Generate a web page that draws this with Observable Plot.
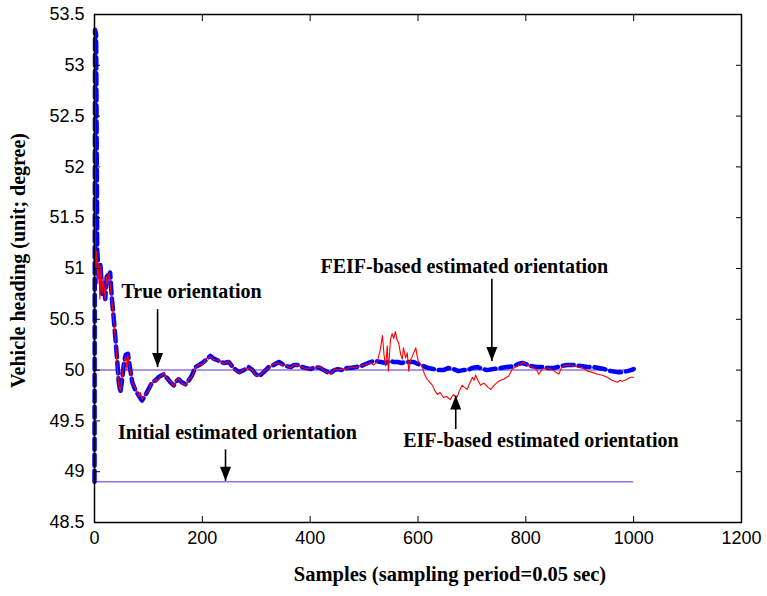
<!DOCTYPE html>
<html>
<head>
<meta charset="utf-8">
<script src="https://cdn.jsdelivr.net/npm/d3@7"></script>
<script src="https://cdn.jsdelivr.net/npm/@observablehq/plot@0.6"></script>
<style>
  body { margin: 0; background: #fff; }
</style>
</head>
<body>
<div id="chart"></div>
<script>
// Vehicle heading estimates: EIF vs. FEIF, sample index vs. degrees
const xTicks = [0, 200, 400, 600, 800, 1000, 1200];
const yTicks = [48.5, 49, 49.5, 50, 50.5, 51, 51.5, 52, 52.5, 53, 53.5];

const trueHeading = 50;
const initialHeading = 48.9;
const lastSample = 1000;

// FEIF-based estimate [sample, heading]
const feif = [
  [0, 48.9], [1, 53.35], [3, 53.3], [5, 51.19], [8, 50.9], [11, 51.05], [14, 50.75], [17, 50.85],
  [20, 50.7], [23, 50.95], [26, 50.92], [29, 50.96], [32, 50.72], [35, 50.55], [39, 50.3], [42, 50.1],
  [45, 49.88], [48, 49.78], [51, 49.9], [55, 50.08], [58, 50.15], [62, 50.16], [65, 50.05], [70, 49.88],
  [76, 49.8], [82, 49.75], [88, 49.7], [95, 49.76], [101, 49.82], [107, 49.88], [113, 49.9], [119, 49.93],
  [125, 49.95], [129, 49.96], [135, 49.92], [141, 49.88], [147, 49.85], [152, 49.89], [156, 49.91],
  [162, 49.88], [169, 49.86], [175, 49.9], [181, 49.95], [187, 50.03], [194, 50.05], [200, 50.07],
  [207, 50.1], [215, 50.14], [222, 50.11], [231, 50.09], [240, 50.07], [249, 50.08], [258, 50.02],
  [268, 49.98], [277, 50.0], [286, 50.03], [293, 50.0], [299, 49.96], [305, 49.94], [314, 49.98],
  [323, 50.03], [332, 50.05], [342, 50.08], [348, 50.06], [354, 50.04], [364, 50.03], [370, 50.05],
  [377, 50.05], [385, 50.03], [393, 50.02], [401, 50.01], [410, 50.03], [419, 50.02], [425, 50.0],
  [432, 49.98], [438, 49.97], [445, 50.0], [451, 50.01], [460, 50.0], [468, 50.02], [475, 50.02],
  [485, 50.03], [494, 50.04], [503, 50.06], [512, 50.08], [520, 50.09], [531, 50.08], [540, 50.07],
  [548, 50.09], [555, 50.08], [562, 50.08], [570, 50.07], [578, 50.08], [585, 50.08], [592, 50.08],
  [600, 50.06], [610, 50.04], [620, 50.02], [629, 50.01], [638, 50.0], [647, 50.0], [656, 50.02],
  [666, 50.01], [675, 49.99], [684, 50.0], [692, 50.0], [700, 50.02], [711, 50.03], [720, 50.01],
  [728, 50.0], [740, 50.01], [753, 50.02], [765, 50.03], [778, 50.04], [786, 50.06], [793, 50.07],
  [800, 50.06], [809, 50.04], [820, 50.03], [833, 50.03], [843, 50.02], [852, 50.02], [865, 50.04],
  [877, 50.05], [890, 50.05], [902, 50.04], [914, 50.03], [926, 50.03], [935, 50.02], [945, 50.01],
  [958, 49.99], [970, 49.98], [980, 49.98], [988, 49.99], [995, 50.0], [1000, 50.01]
];

// EIF-based estimate [sample, heading]
const eif = [
  [0, 50.25], [1, 53.35], [2, 51.0], [4, 51.17], [6, 50.85], [8, 51.05], [10, 50.7], [12, 51.02],
  [14, 50.75], [16, 50.9], [18, 50.8], [20, 50.68], [22, 50.92], [24, 50.85], [26, 50.95], [28, 50.9],
  [30, 50.78], [32, 50.7], [35, 50.52], [39, 50.28], [42, 50.05], [45, 49.85], [48, 49.8], [51, 49.92],
  [55, 50.1], [58, 50.13], [60, 50.0], [62, 50.15], [65, 50.03], [70, 49.87], [76, 49.82], [82, 49.74],
  [85, 49.78], [88, 49.71], [95, 49.77], [101, 49.8], [104, 49.86], [107, 49.87], [113, 49.91],
  [117, 49.89], [122, 49.94], [129, 49.97], [135, 49.91], [141, 49.89], [147, 49.84], [152, 49.9],
  [156, 49.92], [162, 49.87], [169, 49.85], [175, 49.91], [181, 49.94], [187, 50.02], [194, 50.06],
  [200, 50.05], [207, 50.11], [215, 50.13], [222, 50.1], [231, 50.1], [240, 50.06], [249, 50.09],
  [258, 50.01], [268, 49.97], [277, 50.01], [286, 50.02], [293, 50.0], [299, 49.95], [305, 49.94],
  [314, 49.99], [323, 50.02], [332, 50.06], [342, 50.07], [348, 50.05], [354, 50.05], [364, 50.02],
  [370, 50.06], [377, 50.04], [385, 50.03], [393, 50.01], [401, 50.02], [410, 50.02], [419, 50.03],
  [425, 49.99], [432, 49.98], [438, 49.96], [445, 50.01], [451, 50.0], [460, 50.01], [468, 50.01],
  [475, 50.03], [485, 50.02], [494, 50.05], [503, 50.05], [512, 50.07], [518, 50.05], [525, 50.09],
  [530, 50.2], [534, 50.34], [537, 50.15], [540, 50.04], [543, 50.24], [545, 49.99], [549, 50.3],
  [552, 50.36], [555, 50.31], [558, 50.38], [561, 50.3], [564, 50.27], [568, 50.15], [571, 50.11],
  [573, 50.22], [577, 50.12], [580, 50.17], [583, 49.99], [586, 50.1], [589, 50.13], [593, 50.18],
  [596, 50.22], [598, 50.15], [601, 50.08], [605, 50.06], [608, 50.03], [612, 49.96], [617, 49.91],
  [622, 49.88], [627, 49.85], [631, 49.8], [636, 49.76], [641, 49.78], [647, 49.73], [653, 49.74],
  [660, 49.71], [663, 49.74], [666, 49.76], [670, 49.73], [673, 49.74], [677, 49.8], [682, 49.85],
  [686, 49.83], [691, 49.81], [696, 49.87], [701, 49.93], [704, 49.9], [707, 49.95], [712, 49.89],
  [716, 49.85], [721, 49.87], [725, 49.86], [730, 49.83], [735, 49.81], [741, 49.85], [747, 49.88],
  [753, 49.9], [759, 49.91], [764, 49.93], [768, 49.94], [775, 50.01], [784, 50.04], [790, 50.06],
  [796, 50.08], [800, 50.06], [805, 50.04], [814, 50.03], [820, 50.0], [824, 49.96], [831, 50.01],
  [840, 50.02], [846, 50.01], [853, 49.99], [861, 49.96], [866, 50.02], [870, 50.04], [880, 50.05],
  [889, 50.04], [896, 50.03], [902, 50.03], [908, 50.01], [914, 49.99], [922, 49.98], [933, 49.96],
  [942, 49.95], [951, 49.93], [960, 49.9], [970, 49.88], [975, 49.9], [979, 49.89], [984, 49.9],
  [988, 49.91], [994, 49.93], [1000, 49.93]
];

// Annotation labels
const noteText = [
  "True orientation",
  "FEIF-based estimated orientation",
  "Initial estimated orientation",
  "EIF-based estimated orientation"
];
const noteSample = [180, 686, 265, 828];
const noteHeading = [50.77, 51.02, 49.38, 49.31];

// Annotation arrows: stem from tail to tip
const arrowSample = [117, 737, 670, 243];
const arrowTail = [50.6, 50.9, 49.42, 49.22];
const arrowTip = [50.03, 50.09, 49.75, 48.91];

const serif = "'Liberation Serif', 'Times New Roman', serif";
const sans = "'Liberation Sans', Arial, Helvetica, sans-serif";
const purple = "#9370db";

const notes = noteText.map((t, i) => ({text: t, x: noteSample[i], y: noteHeading[i]}));
const arrows = arrowSample.map((s, i) => ({x: s, y1: arrowTail[i], y2: arrowTip[i], up: arrowTip[i] > arrowTail[i]}));

// filled arrowhead with its tip at the origin, pointing down
const arrowHead = {
  draw(ctx) {
    ctx.moveTo(0, 0);
    ctx.lineTo(-5.5, -14);
    ctx.lineTo(5.5, -14);
    ctx.closePath();
  }
};

const chart = Plot.plot({
  width: 767,
  height: 596,
  marginLeft: 94,
  marginRight: 26,
  marginTop: 14,
  marginBottom: 74,
  style: {fontFamily: sans, fontSize: "18px", background: "white", color: "black"},
  x: {domain: [0, 1200]},
  y: {domain: [48.5, 53.5]},
  marks: [
    // reference levels
    Plot.ruleY([trueHeading], {x1: 0, x2: lastSample, stroke: purple, strokeWidth: 1.5}),
    Plot.ruleY([initialHeading], {x1: 0, x2: lastSample, stroke: purple, strokeWidth: 1.5}),
    // estimates
    Plot.line(feif, {x: d => d[0], y: d => d[1], stroke: "#0000ff", strokeWidth: 4.5, strokeDasharray: "11,5", strokeLinejoin: "round"}),
    Plot.line(eif, {x: d => d[0], y: d => d[1], stroke: "#ff0000", strokeWidth: 1.1}),
    // axes: labels outside, ticks pointing inward on all four sides
    Plot.axisX({anchor: "bottom", ticks: xTicks, tickSize: 0, tickPadding: 9, tickFormat: d => String(d), label: null, fontSize: 18}),
    Plot.axisX({anchor: "bottom", ticks: xTicks, tickSize: 6, dy: -6, tickFormat: () => "", label: null}),
    Plot.axisX({anchor: "top", ticks: xTicks, tickSize: 6, dy: 6, tickFormat: () => "", label: null}),
    Plot.axisY({anchor: "left", ticks: yTicks, tickSize: 0, tickPadding: 10, tickFormat: d => String(d), label: null, fontSize: 18}),
    Plot.axisY({anchor: "left", ticks: yTicks, tickSize: 6, dx: 6, tickFormat: () => "", label: null}),
    Plot.axisY({anchor: "right", ticks: yTicks, tickSize: 6, dx: -6, tickFormat: () => "", label: null}),
    Plot.frame({stroke: "black", strokeWidth: 1.5}),
    // annotations
    Plot.link(arrows, {x1: "x", x2: "x", y1: "y1", y2: "y2", stroke: "black", strokeWidth: 1.6}),
    Plot.dot(arrows, {x: "x", y: "y2", symbol: arrowHead, fill: "black", stroke: "none", rotate: d => d.up ? 180 : 0}),
    Plot.text(notes, {x: "x", y: "y", text: "text", fontFamily: serif, fontWeight: "bold", fontSize: 20, fill: "black"}),
    // axis titles
    Plot.text(["Samples (sampling period=0.05 sec)"], {frameAnchor: "bottom", textAnchor: "middle", dx: 32, dy: 58, fontFamily: serif, fontWeight: "bold", fontSize: 20.5, fill: "black"}),
    Plot.text(["Vehicle heading (unit; degree)"], {frameAnchor: "left", textAnchor: "middle", dx: -76, dy: -8, rotate: -90, fontFamily: serif, fontWeight: "bold", fontSize: 20, fill: "black"})
  ]
});

document.getElementById("chart").appendChild(chart);
</script>
</body>
</html>
